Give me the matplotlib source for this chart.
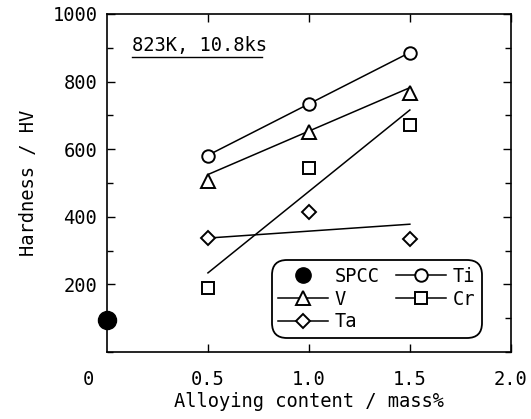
"""Hardness vs alloying content (823K, 10.8ks) — recreated chart."""

import matplotlib

matplotlib.use("Agg")
import matplotlib.pyplot as plt
from matplotlib.lines import Line2D
from matplotlib.ticker import MultipleLocator
import matplotlib.transforms as mtransforms

# %% data
x_alloy = [0.5, 1.0, 1.5]
ti_hv = [580, 734, 885]
v_hv = [505, 651, 766]
cr_hv = [189, 544, 672]
ta_hv = [337, 414, 334]

spcc_x = [0.0]
spcc_hv = [95]

# regression lines as drawn in the figure (end points at 0.5 and 1.5 mass%)
fit_x = [0.5, 1.5]
ti_fit = [582, 886]
v_fit = [525, 782]
cr_fit = [234, 716]
ta_fit = [337, 378]

x_ticks = [0, 0.5, 1.0, 1.5, 2.0]
x_ticklabels = ["0", "0.5", "1.0", "1.5", "2.0"]
y_ticks = [200, 400, 600, 800, 1000]

# %% plot
plt.rcParams["font.family"] = ["DejaVu Sans Mono"]
plt.rcParams["font.size"] = 13.5

fig = plt.figure(figsize=(5.31, 4.19), dpi=100)
ax = fig.add_axes([0.2015, 0.160, 0.7605, 0.8066])

mk = dict(color="black", markerfacecolor="white", markeredgecolor="black",
          markeredgewidth=1.4, linestyle="none")
ax.plot(x_alloy, ti_hv, marker="o", markersize=9, **mk)
ax.plot(x_alloy, v_hv, marker="^", markersize=10, **mk)
ax.plot(x_alloy, cr_hv, marker="s", markersize=8, **mk)
ax.plot(x_alloy, ta_hv, marker="D", markersize=7.5, **mk)
ax.plot(spcc_x, spcc_hv, marker="o", markersize=13, color="black",
        linestyle="none", clip_on=False, zorder=5)

for fit in (ti_fit, v_fit, cr_fit, ta_fit):
    ax.plot(fit_x, fit, color="black", linewidth=1.1, zorder=1)

ax.set_xlim(0, 2.0)
ax.set_ylim(0, 1000)
ax.set_xticks(x_ticks)
ax.set_xticklabels(x_ticklabels)
ax.set_yticks(y_ticks)
ax.yaxis.set_minor_locator(MultipleLocator(100))
ax.tick_params(which="both", direction="in", top=True, right=True,
               width=1.0, labelsize=13.5)
ax.tick_params(which="major", length=6)
ax.tick_params(which="minor", length=4)
ax.tick_params(axis="x", which="major", pad=13)
ax.tick_params(axis="y", which="major", pad=7)
for s in ax.spines.values():
    s.set_linewidth(1.2)

# the "0" at the corner sits left of the origin
lab0 = ax.get_xticklabels()[0]
lab0.set_transform(lab0.get_transform()
                   + mtransforms.ScaledTranslation(-0.19, 0, fig.dpi_scale_trans))
ax.xaxis.get_major_ticks()[0].tick1line.set_visible(False)
ax.xaxis.get_major_ticks()[0].tick2line.set_visible(False)

ax.set_xlabel("Alloying content / mass%", fontsize=13.5, labelpad=2)
ax.set_ylabel("Hardness / HV", fontsize=13.5, labelpad=10)

# condition label with underline
ax.text(0.062, 0.908, "823K, 10.8ks", transform=ax.transAxes,
        fontsize=13.5, ha="left", va="center")
ax.plot([0.062, 0.384], [0.872, 0.872], transform=ax.transAxes,
        color="black", linewidth=1.0)

# legend
handles = [
    Line2D([], [], marker="o", markersize=11, color="black", linestyle="none"),
    Line2D([], [], marker="^", markersize=10, color="black",
           markerfacecolor="white", linewidth=1.1, markeredgewidth=1.4),
    Line2D([], [], marker="D", markersize=7.5, color="black",
           markerfacecolor="white", linewidth=1.1, markeredgewidth=1.4),
    Line2D([], [], marker="o", markersize=9, color="black",
           markerfacecolor="white", linewidth=1.1, markeredgewidth=1.4),
    Line2D([], [], marker="s", markersize=8, color="black",
           markerfacecolor="white", linewidth=1.1, markeredgewidth=1.4),
]
labels = ["SPCC", "V", "Ta", "Ti", "Cr"]
leg = ax.legend(handles, labels, ncol=2, loc="lower right",
                bbox_to_anchor=(0.942, 0.025), fontsize=13.5,
                handlelength=2.65, handletextpad=0.35, columnspacing=0.9,
                labelspacing=0.2, borderpad=0.15, fancybox=True,
                framealpha=1, edgecolor="black")
leg.get_frame().set_linewidth(1.3)
leg.get_frame().set_boxstyle("round,pad=0.2,rounding_size=0.8")

fig.savefig("out.png", dpi=100)
